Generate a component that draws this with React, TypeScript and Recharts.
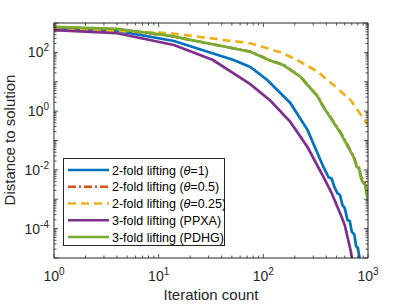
import React from 'react';
import { LineChart, Line, XAxis, YAxis } from 'recharts';

const FONT = '"Liberation Sans", Arial, Helvetica, sans-serif';
const AXIS = '#262626';

// Series data
const blueX = [1, 4, 14, 52, 75, 109, 181, 264, 375, 420, 450, 480, 511, 540, 570, 600, 637, 670, 700, 740, 770, 800, 830, 860];
const blueY = [630, 537, 245, 55, 32, 11.5, 1.9, 0.23, 0.0126, 0.0056, 0.005, 0.0025, 0.0016, 0.0014, 6.3e-4, 5e-4, 1.95e-4, 1.8e-4, 7.9e-5, 6.3e-5, 2.5e-5, 2.2e-5, 1e-5, 5e-6];

const orangeX = [1, 4, 13, 75, 117, 155, 226, 329, 375, 546, 727, 780, 820, 860, 906, 940, 970, 1000];
const orangeY = [700, 610, 360, 106, 53, 38, 15, 3.3, 1.42, 0.19, 0.03, 0.014, 0.012, 0.0058, 0.004, 0.0036, 0.0018, 0.0012];

const yellowX = [1, 4, 13, 75, 109, 155, 226, 329, 468, 680, 794, 990, 1000];
const yellowY = [575, 537, 447, 204, 138, 93, 48, 22, 7.8, 2.4, 1.1, 0.36, 0.33];

const purpleX = [1, 4, 14, 33, 75, 117, 181, 264, 375, 450, 560, 600, 680, 720];
const purpleY = [575, 447, 178, 55, 8.3, 2.26, 0.43, 0.06, 0.0058, 0.0016, 2.5e-4, 1.3e-4, 1.9e-5, 6e-6];

const greenX = [1, 4, 13, 75, 117, 155, 226, 329, 375, 546, 727, 780, 820, 860, 906, 940, 970, 1000];
const greenY = [741, 631, 363, 105, 52, 37, 14.8, 3.2, 1.38, 0.18, 0.0275, 0.0126, 0.0112, 0.005, 0.0035, 0.0032, 0.0014, 0.001];

const seriesNames = [
  ['2-fold lifting (', 'θ', '=1)'],
  ['2-fold lifting (', 'θ', '=0.5)'],
  ['2-fold lifting (', 'θ', '=0.25)'],
  ['3-fold lifting (PPXA)', '', ''],
  ['3-fold lifting (PDHG)', '', ''],
];
const seriesColors = ['#0072BD', '#D95319', '#EDB120', '#7E2F8E', '#77AC30'];
const seriesDash = ['', '8 3 2 3', '8 5', '', ''];

// Axis ticks
const xDecades = [0, 1, 2, 3];
const yDecades = [-5, -4, -3, -2, -1, 0, 1, 2, 3];
const yLabeledExp = [-4, -2, 0, 2];
const xLabeledExp = [0, 1, 2, 3];

const buildTicks = (decades: number[]) => {
  const t: number[] = [];
  decades.forEach((d, i) => {
    t.push(Math.pow(10, d));
    if (i < decades.length - 1) {
      for (let m = 2; m <= 9; m++) t.push(m * Math.pow(10, d));
    }
  });
  return t;
};
const xTicks = buildTicks(xDecades);
const yTicks = buildTicks(yDecades);

const zip = (xs: number[], ys: number[]) => xs.map((x, i) => ({ x, y: ys[i] }));
const seriesData = [
  zip(blueX, blueY),
  zip(orangeX, orangeY),
  zip(yellowX, yellowY),
  zip(purpleX, purpleY),
  zip(greenX, greenY),
];

const expOf = (v: number) => {
  const l = Math.log10(v);
  const e = Math.round(l);
  return { e, major: Math.abs(l - e) < 1e-6 };
};

const MAJ = 4;
const MIN = 2.5;
const TICK_FS = 14;
const SUP_FS = 10;

const XTickBottom = (props: any) => {
  const { x, y, payload } = props;
  const { e, major } = expOf(payload.value);
  return (
    <g>
      <line x1={x} x2={x} y1={y} y2={y - (major ? MAJ : MIN)} stroke={AXIS} strokeWidth={0.8} />
      {major && xLabeledExp.includes(e) && (
        <text x={x} y={y + 23} textAnchor="middle" fontSize={TICK_FS} fontFamily={FONT} fill={AXIS}>
          10<tspan dy={-6} fontSize={SUP_FS}>{e}</tspan>
        </text>
      )}
    </g>
  );
};

const XTickTop = (props: any) => {
  const { x, y, payload } = props;
  const { major } = expOf(payload.value);
  return <line x1={x} x2={x} y1={y} y2={y + (major ? MAJ : MIN)} stroke={AXIS} strokeWidth={0.8} />;
};

const YTickLeft = (props: any) => {
  const { x, y, payload } = props;
  const { e, major } = expOf(payload.value);
  return (
    <g>
      <line x1={x} x2={x + (major ? MAJ : MIN)} y1={y} y2={y} stroke={AXIS} strokeWidth={0.8} />
      {major && yLabeledExp.includes(e) && (
        <text x={x - 5} y={y + 5} textAnchor="end" fontSize={TICK_FS} fontFamily={FONT} fill={AXIS}>
          10<tspan dy={-6} fontSize={SUP_FS}>{e}</tspan>
        </text>
      )}
    </g>
  );
};

const YTickRight = (props: any) => {
  const { x, y, payload } = props;
  const { major } = expOf(payload.value);
  return <line x1={x} x2={x - (major ? MAJ : MIN)} y1={y} y2={y} stroke={AXIS} strokeWidth={0.8} />;
};

const LEG_X = 63;
const LEG_Y = 158;
const LEG_W = 162;
const LEG_H = 88;

const LegendBox = () => (
  <svg width={LEG_W} height={LEG_H}
    style={{ position: 'absolute', left: LEG_X, top: LEG_Y, display: 'block' }}>
    <rect x={0.5} y={0.5} width={LEG_W - 1} height={LEG_H - 1} fill="#fff" stroke={AXIS} strokeWidth={1} />
    {seriesNames.map((n, i) => {
      const cy = 12 + i * 16.75;
      return (
        <g key={i}>
          <line x1={5} x2={46} y1={cy} y2={cy} stroke={seriesColors[i]} strokeWidth={2.7}
            strokeDasharray={seriesDash[i] || undefined} />
          <text x={49} y={cy + 4.5} fontSize={12.5} fontFamily={FONT} fill="#000">
            {n[0]}
            {n[1] && <tspan fontStyle="italic">{n[1]}</tspan>}
            {n[2]}
          </text>
        </g>
      );
    })}
  </svg>
);

export default function App() {
  return (
    <div style={{ position: 'absolute', left: 0, top: 0, width: 407, height: 305, background: '#fff' }}>
      <LineChart width={407} height={305} margin={{ top: 22, right: 38, bottom: 17, left: 0 }}>
        <XAxis
          xAxisId={0}
          dataKey="x"
          type="number"
          scale="log"
          domain={[1, 1000]}
          allowDataOverflow
          ticks={xTicks}
          interval={0}
          tickSize={0}
          tickMargin={0}
          height={30}
          stroke={AXIS}
          tick={<XTickBottom />}
          label={{
            content: () => (
              <text x={211} y={300} textAnchor="middle" fontSize={15} fontFamily={FONT} fill={AXIS}>
                Iteration count
              </text>
            ),
          }}
        />
        <XAxis
          xAxisId="top"
          orientation="top"
          dataKey="x"
          type="number"
          scale="log"
          domain={[1, 1000]}
          allowDataOverflow
          ticks={xTicks}
          interval={0}
          tickSize={0}
          tickMargin={0}
          height={1}
          stroke={AXIS}
          tick={<XTickTop />}
        />
        <YAxis
          yAxisId={0}
          type="number"
          scale="log"
          domain={[1e-5, 1e3]}
          allowDataOverflow
          ticks={yTicks}
          interval={0}
          tickSize={0}
          tickMargin={0}
          width={54}
          stroke={AXIS}
          tick={<YTickLeft />}
          label={{
            content: () => (
              <text x={15} y={140} transform="rotate(-90 15 140)" textAnchor="middle" fontSize={15}
                fontFamily={FONT} fill={AXIS}>
                Distance to solution
              </text>
            ),
          }}
        />
        <YAxis
          yAxisId="right"
          orientation="right"
          type="number"
          scale="log"
          domain={[1e-5, 1e3]}
          allowDataOverflow
          ticks={yTicks}
          interval={0}
          tickSize={0}
          tickMargin={0}
          width={1}
          stroke={AXIS}
          tick={<YTickRight />}
        />
        {seriesData.map((d, i) => (
          <Line
            key={i}
            xAxisId={0}
            yAxisId={0}
            data={d}
            dataKey="y"
            type="linear"
            stroke={seriesColors[i]}
            strokeWidth={2.7}
            strokeDasharray={seriesDash[i] || undefined}
            dot={false}
            activeDot={false}
            isAnimationActive={false}
          />
        ))}
      </LineChart>
      <LegendBox />
    </div>
  );
}
